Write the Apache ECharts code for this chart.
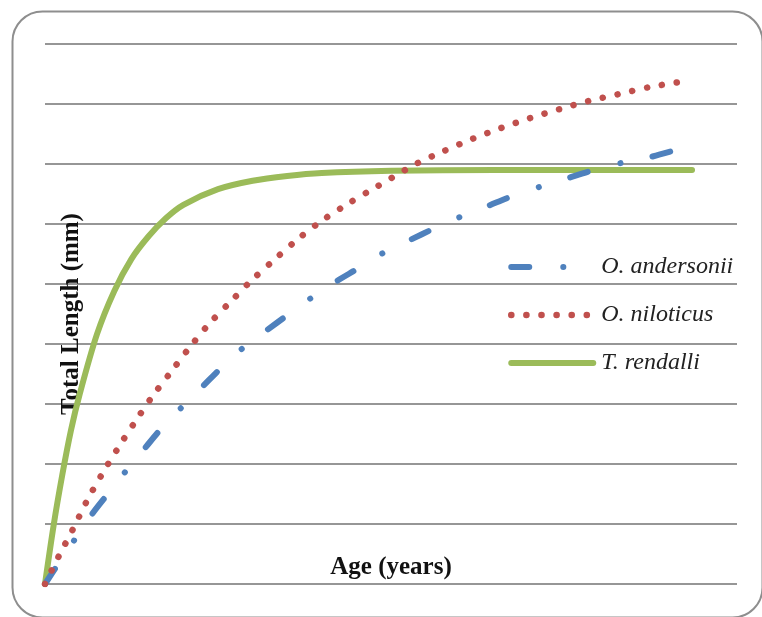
<!DOCTYPE html>
<html>
<head>
<meta charset="utf-8">
<script src="https://cdn.jsdelivr.net/npm/echarts@6/dist/echarts.min.js"></script>
<style>
html,body{margin:0;padding:0;background:#fff;}
#chart{width:762px;height:617px;}
</style>
</head>
<body>
<div id="chart"></div>
<script>
// Data (age in years, total length in mm)
var seriesNames = ['O. andersonii', 'O. niloticus', 'T. rendalli'];

var andersoniiAge = [0, 0.38, 0.87, 1.36, 1.79, 2.34, 2.89, 3.35, 3.96, 4.57, 5.06, 5.72, 6.42, 6.97, 7.69, 8.44, 9.02, 9.77, 10.55, 11.21, 11.99, 12.80, 13.44, 14.28, 15.12, 15.75, 16.65, 17.49, 18.24];
var andersoniiLen = [0, 16.7, 37.5, 58.3, 74.2, 94.2, 113.3, 129.2, 147.5, 165, 179.2, 196.7, 211.7, 223.3, 238.3, 252.5, 262.5, 275.8, 286.7, 295.8, 305.8, 315, 322.5, 330.8, 338.3, 344, 350.8, 355.8, 361.7];

var niloticusAge = [0, 0.40, 0.81, 1.21, 1.65, 2.11, 2.60, 3.09, 3.64, 4.19, 4.74, 5.38, 5.98, 6.65, 7.31, 8.03, 8.79, 9.57, 10.72, 11.53, 12.34, 13.18, 14.02, 14.88, 15.72, 16.59, 17.49, 18.35];
var niloticusLen = [0, 23.3, 45.8, 69.2, 91.7, 113.3, 135, 155.8, 176.7, 197.5, 216.7, 235.8, 253.3, 270.8, 287.5, 303.3, 317.5, 330.8, 350, 360.8, 370.8, 380, 388.3, 395.8, 402.5, 408.3, 414.2, 418.3];

var rendalliAge = [0, 0.25, 0.5, 0.75, 1.0, 1.5, 2.0, 2.5, 3.0, 3.5, 4.0, 5.0, 6.0, 7.0, 8.0, 10.0, 13.0, 18.7];
var rendalliLen = [0, 49, 91, 128, 158, 208, 244, 271, 290, 305, 316, 329, 336, 340, 342.5, 344.3, 345, 345];

var xMin = 0, xMax = 20;
var yMin = 0, yMax = 450, yStep = 50;

function pairs(xs, ys) { return xs.map(function (x, i) { return [x, ys[i]]; }); }

var chart = echarts.init(document.getElementById('chart'), null, { renderer: 'canvas' });

var option = {
  backgroundColor: '#ffffff',
  animation: false,
  graphic: [{
    type: 'rect',
    left: 10, top: 9,
    shape: { width: 750, height: 606, r: 30 },
    style: { fill: 'none', stroke: '#8e8e8e', lineWidth: 2 },
    z: -1
  }],
  grid: { left: 45, right: 25, top: 44, bottom: 33, containLabel: false },
  xAxis: {
    type: 'value', min: xMin, max: xMax,
    name: 'Age (years)', nameLocation: 'middle', nameGap: -29,
    nameTextStyle: { fontFamily: 'Liberation Serif', fontWeight: 'bold', fontSize: 25, color: '#111' },
    axisLine: { show: false }, axisTick: { show: false }, axisLabel: { show: false },
    splitLine: { show: false }
  },
  yAxis: {
    type: 'value', min: yMin, max: yMax, interval: yStep,
    name: 'Total Length (mm)', nameLocation: 'middle', nameGap: -39,
    nameTextStyle: { fontFamily: 'Liberation Serif', fontWeight: 'bold', fontSize: 25, color: '#111' },
    axisLine: { show: false }, axisTick: { show: false }, axisLabel: { show: false },
    splitLine: { show: true, lineStyle: { color: '#969696', width: 2 } }
  },
  legend: {
    orient: 'vertical', left: 508, top: 254, padding: 0,
    itemWidth: 82, itemHeight: 14, itemGap: 22,
    data: seriesNames,
    itemStyle: { opacity: 0 },
    lineStyle: { width: 'inherit', type: 'inherit', cap: 'inherit', color: 'inherit' },
    textStyle: { fontFamily: 'Liberation Serif', fontStyle: 'italic', fontSize: 24, color: '#222', lineHeight: 26, padding: [0, 0, 0, 3] }
  },
  series: [
    {
      name: seriesNames[0], type: 'line', symbol: 'none', smooth: 0.3,
      data: pairs(andersoniiAge, andersoniiLen),
      lineStyle: { color: '#4F81BD', width: 6, type: [18, 34, 0.1, 33], cap: 'round' },
      itemStyle: { color: '#4F81BD' }, z: 3
    },
    {
      name: seriesNames[1], type: 'line', symbol: 'none', smooth: 0.3,
      data: pairs(niloticusAge, niloticusLen),
      lineStyle: { color: '#C0504D', width: 6.5, type: [0.1, 15], cap: 'round' },
      itemStyle: { color: '#C0504D' }, z: 3
    },
    {
      name: seriesNames[2], type: 'line', symbol: 'none', smooth: 0.3,
      data: pairs(rendalliAge, rendalliLen),
      lineStyle: { color: '#9BBB59', width: 6, cap: 'round', join: 'round' },
      itemStyle: { color: '#9BBB59' }, z: 2
    }
  ]
};
chart.setOption(option);
</script>
</body>
</html>
